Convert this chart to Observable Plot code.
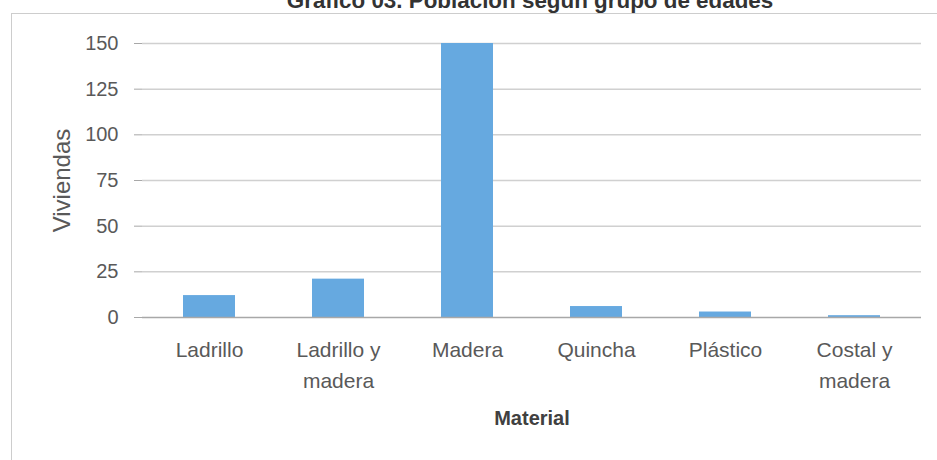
<!DOCTYPE html>
<html lang="es">
<head>
<meta charset="utf-8">
<script src="https://cdn.jsdelivr.net/npm/d3@7"></script>
<script src="https://cdn.jsdelivr.net/npm/@observablehq/plot@0.6"></script>
<style>
  html, body { margin: 0; padding: 0; background: #fff; }
  #wrap { position: relative; width: 937px; height: 460px; overflow: hidden; }
  #border {
    position: absolute; left: 11px; top: 13px; right: -4px; bottom: -4px;
    border-left: 1.5px solid #cdcdcd; border-top: 1.5px solid #cdcdcd;
    pointer-events: none;
  }
  #chart { position: absolute; left: 0; top: 0; }
</style>
</head>
<body>
<div id="wrap">
  <div id="chart"></div>
  <div id="border"></div>
</div>
<script>
// Viviendas por material de construcción
const materiales = ["Ladrillo", "Ladrillo y madera", "Madera", "Quincha", "Plástico", "Costal y madera"];
const viviendas = [12, 21, 150, 6, 3, 1];
const yTicks = [0, 25, 50, 75, 100, 125, 150];

const titulo = "Gráfico 03. Población según grupo de edades";
const etiquetaY = "Viviendas";
const etiquetaX = "Material";

const datos = materiales.map((m, i) => ({material: m, valor: viviendas[i]}));

const font = "'Liberation Sans', Arial, sans-serif";
const gris = "#595959";

const chart = Plot.plot({
  width: 937,
  height: 460,
  marginLeft: 142,
  marginRight: 16,
  marginTop: 43,
  marginBottom: 143,
  style: {fontFamily: font, fontSize: "20px", color: gris, background: "transparent", overflow: "visible"},
  x: {domain: materiales, paddingInner: 0.6, paddingOuter: 0.3, label: null},
  y: {domain: [0, 150], label: null},
  marks: [
    // líneas de cuadrícula horizontales
    Plot.ruleY(yTicks.filter(d => d > 0), {stroke: "#d0d0d0", strokeWidth: 1.5}),
    Plot.barY(datos, {x: "material", y: "valor", fill: "#66a9e0"}),
    // eje vertical y línea base
    Plot.ruleX([0], {frameAnchor: "left", y1: 0, y2: 150, stroke: "#a8a8a8", strokeWidth: 1.5}),
    Plot.ruleY([0], {stroke: "#a8a8a8", strokeWidth: 1.5}),
    Plot.axisY({
      ticks: yTicks, tickSize: 8, tickPadding: 16, stroke: "#a8a8a8",
      fontSize: 20, fill: gris, label: null
    }),
    Plot.axisX({
      tickSize: 0, tickPadding: 17, fontSize: 21, fill: gris, lineHeight: 1.5,
      tickFormat: d => d.replace(" y ", " y\n"), label: null
    }),
    Plot.text([etiquetaY], {
      frameAnchor: "left", dx: -80, rotate: -90, text: d => d,
      fontSize: 24, fill: gris, lineAnchor: "middle", textAnchor: "middle"
    }),
    Plot.text([etiquetaX], {
      frameAnchor: "bottom", dy: 101, text: d => d,
      fontSize: 20, fontWeight: "bold", fill: "#404040", lineAnchor: "middle"
    }),
    Plot.text([titulo], {
      frameAnchor: "top", dy: -42.5, dx: -2, text: d => d,
      fontSize: 22.4, fontWeight: "bold", fill: "#333", lineAnchor: "middle"
    })
  ]
});

document.getElementById("chart").appendChild(chart);
</script>
</body>
</html>
